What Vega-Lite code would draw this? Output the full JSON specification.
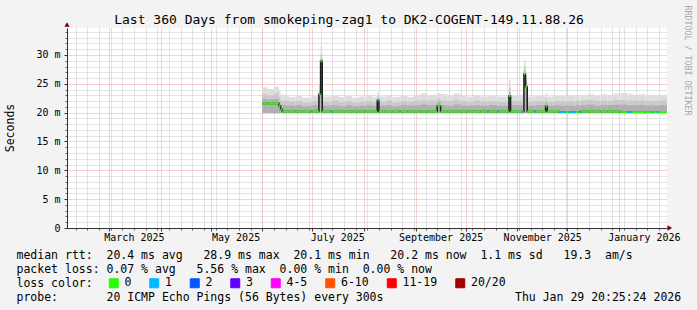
{
  "$schema": "https://vega.github.io/schema/vega-lite/v6.json",
  "width": 600,
  "height": 200,
  "autosize": {"type": "none"},
  "padding": {"left": 67, "top": 28, "right": 30, "bottom": 82},
  "background": "#f3f3f3",
  "view": {"fill": "#ffffff", "stroke": null},
  "datasets": {
    "ping": [
      {"t": "2025-06-01T00:00", "e": "2025-06-04T00:00", "med": 21.6, "loss": "0", "hi": 24.4, "mid": 23.2, "low": 22.4},
      {"t": "2025-06-04T00:00", "e": "2025-06-08T00:00", "med": 21.6, "loss": "0", "hi": 24.1, "mid": 23.0, "low": 22.3},
      {"t": "2025-06-08T00:00", "e": "2025-06-11T00:00", "med": 21.6, "loss": "0", "hi": 24.5, "mid": 23.3, "low": 22.4},
      {"t": "2025-06-11T00:00", "e": "2025-06-12T00:00", "med": 21.2, "loss": "0", "hi": 23.8, "mid": 22.7, "low": 21.9},
      {"t": "2025-06-12T00:00", "e": "2025-06-13T00:00", "med": 20.6, "loss": "0", "hi": 23.2, "mid": 22.2, "low": 21.4},
      {"t": "2025-06-13T00:00", "e": "2025-06-17T00:00", "med": 20.2, "loss": "0", "hi": 23.1, "mid": 22.1, "low": 21.3},
      {"t": "2025-06-17T00:00", "e": "2025-06-21T00:00", "med": 20.2, "loss": "0", "hi": 22.7, "mid": 21.9, "low": 21.2},
      {"t": "2025-06-21T00:00", "e": "2025-06-25T00:00", "med": 20.2, "loss": "0", "hi": 22.9, "mid": 22.0, "low": 21.3},
      {"t": "2025-06-25T00:00", "e": "2025-06-30T00:00", "med": 20.2, "loss": "0", "hi": 22.6, "mid": 21.8, "low": 21.1},
      {"t": "2025-06-30T00:00", "e": "2025-07-01T00:00", "med": 20.2, "loss": "1", "hi": 22.8, "mid": 21.9, "low": 21.2},
      {"t": "2025-07-01T00:00", "e": "2025-07-05T00:00", "med": 20.2, "loss": "0", "hi": 22.9, "mid": 22.0, "low": 21.3},
      {"t": "2025-07-05T00:00", "e": "2025-07-06T00:00", "med": 23.2, "loss": "0", "hi": 24.8, "mid": 24.0, "low": 23.6},
      {"t": "2025-07-06T00:00", "e": "2025-07-07T00:00", "med": 28.9, "loss": "0", "hi": 31.5, "mid": 30.1, "low": 29.4},
      {"t": "2025-07-07T00:00", "e": "2025-07-12T00:00", "med": 20.2, "loss": "0", "hi": 22.8, "mid": 21.9, "low": 21.2},
      {"t": "2025-07-12T00:00", "e": "2025-07-13T00:00", "med": 20.2, "loss": "1", "hi": 22.9, "mid": 22.0, "low": 21.3},
      {"t": "2025-07-13T00:00", "e": "2025-07-17T00:00", "med": 20.2, "loss": "0", "hi": 23.0, "mid": 22.1, "low": 21.3},
      {"t": "2025-07-17T00:00", "e": "2025-07-21T00:00", "med": 20.2, "loss": "0", "hi": 22.7, "mid": 21.8, "low": 21.1},
      {"t": "2025-07-21T00:00", "e": "2025-07-25T00:00", "med": 20.2, "loss": "0", "hi": 22.9, "mid": 22.0, "low": 21.3},
      {"t": "2025-07-25T00:00", "e": "2025-07-29T00:00", "med": 20.2, "loss": "0", "hi": 22.6, "mid": 21.8, "low": 21.1},
      {"t": "2025-07-29T00:00", "e": "2025-08-02T00:00", "med": 20.2, "loss": "0", "hi": 22.8, "mid": 21.9, "low": 21.2},
      {"t": "2025-08-02T00:00", "e": "2025-08-06T00:00", "med": 20.2, "loss": "0", "hi": 23.0, "mid": 22.0, "low": 21.3},
      {"t": "2025-08-06T00:00", "e": "2025-08-09T00:00", "med": 20.2, "loss": "0", "hi": 22.7, "mid": 21.9, "low": 21.2},
      {"t": "2025-08-09T00:00", "e": "2025-08-10T00:00", "med": 22.1, "loss": "1", "hi": 23.5, "mid": 22.9, "low": 22.5},
      {"t": "2025-08-10T00:00", "e": "2025-08-14T00:00", "med": 20.2, "loss": "0", "hi": 22.8, "mid": 21.9, "low": 21.2},
      {"t": "2025-08-14T00:00", "e": "2025-08-18T00:00", "med": 20.2, "loss": "0", "hi": 23.0, "mid": 22.1, "low": 21.3},
      {"t": "2025-08-18T00:00", "e": "2025-08-22T00:00", "med": 20.2, "loss": "0", "hi": 22.7, "mid": 21.8, "low": 21.1},
      {"t": "2025-08-22T00:00", "e": "2025-08-23T00:00", "med": 20.2, "loss": "1", "hi": 22.8, "mid": 21.9, "low": 21.2},
      {"t": "2025-08-23T00:00", "e": "2025-08-27T00:00", "med": 20.2, "loss": "0", "hi": 22.9, "mid": 22.0, "low": 21.3},
      {"t": "2025-08-27T00:00", "e": "2025-08-31T00:00", "med": 20.2, "loss": "0", "hi": 22.7, "mid": 21.9, "low": 21.2},
      {"t": "2025-08-31T00:00", "e": "2025-09-04T00:00", "med": 20.2, "loss": "0", "hi": 23.1, "mid": 22.1, "low": 21.3},
      {"t": "2025-09-04T00:00", "e": "2025-09-08T00:00", "med": 20.2, "loss": "0", "hi": 23.3, "mid": 22.2, "low": 21.4},
      {"t": "2025-09-08T00:00", "e": "2025-09-14T00:00", "med": 20.2, "loss": "0", "hi": 23.1, "mid": 22.1, "low": 21.3},
      {"t": "2025-09-14T00:00", "e": "2025-09-16T00:00", "med": 21.2, "loss": "0", "hi": 23.4, "mid": 22.5, "low": 21.9},
      {"t": "2025-09-16T00:00", "e": "2025-09-20T00:00", "med": 20.2, "loss": "0", "hi": 23.2, "mid": 22.1, "low": 21.3},
      {"t": "2025-09-20T00:00", "e": "2025-09-24T00:00", "med": 20.2, "loss": "0", "hi": 23.0, "mid": 22.0, "low": 21.2},
      {"t": "2025-09-24T00:00", "e": "2025-09-28T00:00", "med": 20.2, "loss": "0", "hi": 23.3, "mid": 22.2, "low": 21.4},
      {"t": "2025-09-28T00:00", "e": "2025-10-02T00:00", "med": 20.2, "loss": "0", "hi": 22.9, "mid": 22.0, "low": 21.2},
      {"t": "2025-10-02T00:00", "e": "2025-10-06T00:00", "med": 20.2, "loss": "0", "hi": 22.8, "mid": 21.9, "low": 21.2},
      {"t": "2025-10-06T00:00", "e": "2025-10-10T00:00", "med": 20.2, "loss": "0", "hi": 23.0, "mid": 22.1, "low": 21.3},
      {"t": "2025-10-10T00:00", "e": "2025-10-14T00:00", "med": 20.2, "loss": "0", "hi": 22.8, "mid": 21.9, "low": 21.2},
      {"t": "2025-10-14T00:00", "e": "2025-10-15T00:00", "med": 20.2, "loss": "1", "hi": 22.9, "mid": 22.0, "low": 21.2},
      {"t": "2025-10-15T00:00", "e": "2025-10-20T00:00", "med": 20.2, "loss": "0", "hi": 22.9, "mid": 22.0, "low": 21.3},
      {"t": "2025-10-20T00:00", "e": "2025-10-21T00:00", "med": 20.2, "loss": "1", "hi": 22.8, "mid": 21.9, "low": 21.2},
      {"t": "2025-10-21T00:00", "e": "2025-10-27T00:00", "med": 20.2, "loss": "0", "hi": 22.8, "mid": 21.9, "low": 21.2},
      {"t": "2025-10-27T00:00", "e": "2025-10-28T00:00", "med": 22.9, "loss": "0", "hi": 25.7, "mid": 24.3, "low": 23.6},
      {"t": "2025-10-28T00:00", "e": "2025-11-01T00:00", "med": 20.2, "loss": "0", "hi": 22.9, "mid": 22.0, "low": 21.3},
      {"t": "2025-11-01T00:00", "e": "2025-11-04T00:00", "med": 20.2, "loss": "0", "hi": 23.0, "mid": 22.1, "low": 21.3},
      {"t": "2025-11-04T00:00", "e": "2025-11-05T00:00", "med": 20.2, "loss": "1", "hi": 22.9, "mid": 22.0, "low": 21.3},
      {"t": "2025-11-05T00:00", "e": "2025-11-06T00:00", "med": 26.7, "loss": "0", "hi": 29.2, "mid": 28.0, "low": 27.3},
      {"t": "2025-11-06T00:00", "e": "2025-11-07T00:00", "med": 24.5, "loss": "0", "hi": 26.2, "mid": 25.4, "low": 24.9},
      {"t": "2025-11-07T00:00", "e": "2025-11-11T00:00", "med": 20.2, "loss": "0", "hi": 22.8, "mid": 21.9, "low": 21.2},
      {"t": "2025-11-11T00:00", "e": "2025-11-12T00:00", "med": 20.2, "loss": "1", "hi": 22.9, "mid": 22.0, "low": 21.2},
      {"t": "2025-11-12T00:00", "e": "2025-11-18T00:00", "med": 20.2, "loss": "0", "hi": 22.9, "mid": 22.0, "low": 21.3},
      {"t": "2025-11-18T00:00", "e": "2025-11-19T00:00", "med": 21.1, "loss": "0", "hi": 23.4, "mid": 22.5, "low": 21.8},
      {"t": "2025-11-19T00:00", "e": "2025-11-23T00:00", "med": 20.2, "loss": "0", "hi": 22.8, "mid": 21.9, "low": 21.2},
      {"t": "2025-11-23T00:00", "e": "2025-11-26T00:00", "med": 20.2, "loss": "0", "hi": 22.9, "mid": 22.0, "low": 21.3},
      {"t": "2025-11-26T00:00", "e": "2025-11-30T00:00", "med": 20.1, "loss": "1", "hi": 22.9, "mid": 22.0, "low": 21.2},
      {"t": "2025-11-30T00:00", "e": "2025-12-02T00:00", "med": 20.1, "loss": "0", "hi": 23.0, "mid": 22.0, "low": 21.3},
      {"t": "2025-12-02T00:00", "e": "2025-12-06T00:00", "med": 20.1, "loss": "1", "hi": 22.9, "mid": 22.0, "low": 21.2},
      {"t": "2025-12-06T00:00", "e": "2025-12-08T00:00", "med": 20.1, "loss": "0", "hi": 23.0, "mid": 22.1, "low": 21.3},
      {"t": "2025-12-08T00:00", "e": "2025-12-09T00:00", "med": 20.1, "loss": "1", "hi": 22.8, "mid": 21.9, "low": 21.2},
      {"t": "2025-12-09T00:00", "e": "2025-12-13T00:00", "med": 20.2, "loss": "0", "hi": 23.0, "mid": 22.1, "low": 21.3},
      {"t": "2025-12-13T00:00", "e": "2025-12-17T00:00", "med": 20.2, "loss": "0", "hi": 23.2, "mid": 22.2, "low": 21.4},
      {"t": "2025-12-17T00:00", "e": "2025-12-21T00:00", "med": 20.2, "loss": "0", "hi": 22.9, "mid": 22.0, "low": 21.2},
      {"t": "2025-12-21T00:00", "e": "2025-12-25T00:00", "med": 20.2, "loss": "0", "hi": 23.2, "mid": 22.1, "low": 21.3},
      {"t": "2025-12-25T00:00", "e": "2025-12-29T00:00", "med": 20.2, "loss": "0", "hi": 23.0, "mid": 22.0, "low": 21.3},
      {"t": "2025-12-29T00:00", "e": "2026-01-02T00:00", "med": 20.2, "loss": "0", "hi": 23.3, "mid": 22.2, "low": 21.4},
      {"t": "2026-01-02T00:00", "e": "2026-01-06T00:00", "med": 20.1, "loss": "0", "hi": 23.4, "mid": 22.2, "low": 21.4},
      {"t": "2026-01-06T00:00", "e": "2026-01-09T00:00", "med": 20.1, "loss": "1", "hi": 23.2, "mid": 22.1, "low": 21.3},
      {"t": "2026-01-09T00:00", "e": "2026-01-13T00:00", "med": 20.1, "loss": "0", "hi": 23.1, "mid": 22.1, "low": 21.3},
      {"t": "2026-01-13T00:00", "e": "2026-01-17T00:00", "med": 20.1, "loss": "0", "hi": 23.2, "mid": 22.1, "low": 21.3},
      {"t": "2026-01-17T00:00", "e": "2026-01-21T00:00", "med": 20.1, "loss": "0", "hi": 23.0, "mid": 22.0, "low": 21.2},
      {"t": "2026-01-21T00:00", "e": "2026-01-22T00:00", "med": 20.1, "loss": "1", "hi": 23.1, "mid": 22.1, "low": 21.3},
      {"t": "2026-01-22T00:00", "e": "2026-01-24T00:00", "med": 20.1, "loss": "0", "hi": 23.1, "mid": 22.0, "low": 21.2},
      {"t": "2026-01-24T00:00", "e": "2026-01-25T00:00", "med": 20.1, "loss": "1", "hi": 23.0, "mid": 22.0, "low": 21.2},
      {"t": "2026-01-25T00:00", "e": "2026-01-29T20:00", "med": 20.1, "loss": "0", "hi": 23.1, "mid": 22.1, "low": 21.3}
    ]
  },
  "resolve": {"axis": {"x": "independent", "y": "independent"}},
  "layer": [
    {
      "data": {"name": "ping"},
      "mark": {"type": "rect", "color": "#dddddd"},
      "encoding": {
        "x": {"field": "t", "type": "temporal",
          "scale": {"domain": [{"year": 2025, "month": 2, "date": 3, "hours": 20, "minutes": 25}, {"year": 2026, "month": 1, "date": 29, "hours": 20, "minutes": 25}], "nice": false},
          "axis": {"orient": "bottom", "grid": true, "gridColor": "#c8c8c8", "gridDash": [1, 1], "tickCount": {"interval": "week", "step": 1}, "labels": false, "ticks": true, "tickSize": 2, "tickColor": "#666666", "domain": false, "title": null, "zindex": 0}},
        "x2": {"field": "e"},
        "y": {"field": "hi", "type": "quantitative",
          "scale": {"domain": [0, 34.68], "nice": false, "zero": true},
          "axis": {"orient": "left", "values": [1, 2, 3, 4, 6, 7, 8, 9, 11, 12, 13, 14, 16, 17, 18, 19, 21, 22, 23, 24, 26, 27, 28, 29, 31, 32, 33, 34], "grid": true, "gridColor": "#c8c8c8", "gridDash": [1, 1], "labels": false, "ticks": true, "tickSize": 2, "tickColor": "#666666", "domain": false, "title": "Seconds", "titleFont": "DejaVu Sans Mono", "titleFontSize": 11.5, "titleFontWeight": "normal", "titleColor": "#000000", "titleAngle": 270, "titleX": -53.7, "titleY": 99.5, "titleAlign": "center", "titleBaseline": "alphabetic", "zindex": 0}},
        "y2": {"datum": 19.95}
      }
    },
    {
      "data": {"name": "ping"},
      "mark": {"type": "rect", "color": "#c9c9c9"},
      "encoding": {
        "x": {"field": "t", "type": "temporal",
          "scale": {"domain": [{"year": 2025, "month": 2, "date": 3, "hours": 20, "minutes": 25}, {"year": 2026, "month": 1, "date": 29, "hours": 20, "minutes": 25}], "nice": false},
          "axis": {"orient": "bottom", "grid": true, "gridColor": "#f3a3a3", "gridDash": [1, 1], "tickCount": {"interval": "month", "step": 1}, "labels": false, "ticks": true, "tickSize": 3, "tickColor": "#444444", "domain": false, "title": null, "zindex": 0}},
        "x2": {"field": "e"},
        "y": {"field": "mid", "type": "quantitative",
          "scale": {"domain": [0, 34.68], "nice": false, "zero": true},
          "axis": {"orient": "left", "values": [0, 5, 10, 15, 20, 25, 30], "grid": true, "gridColor": "#f3a3a3", "gridDash": [1, 1], "labels": true, "labelExpr": "datum.value == 0 ? '0' : datum.value + ' m'", "labelFont": "DejaVu Sans Mono", "labelFontSize": 10, "labelColor": "#000000", "labelPadding": 4, "ticks": true, "tickSize": 3, "tickColor": "#333333", "domain": true, "domainColor": "#333333", "title": null, "zindex": 0}},
        "y2": {"datum": 19.95}
      }
    },
    {
      "data": {"name": "ping"},
      "mark": {"type": "rect", "color": "#afafaf"},
      "encoding": {
        "x": {"field": "t", "type": "temporal",
          "scale": {"domain": [{"year": 2025, "month": 2, "date": 3, "hours": 20, "minutes": 25}, {"year": 2026, "month": 1, "date": 29, "hours": 20, "minutes": 25}], "nice": false},
          "axis": {"orient": "bottom", "grid": false, "values": [{"year": 2025, "month": 3, "date": 16}, {"year": 2025, "month": 5, "date": 16}, {"year": 2025, "month": 7, "date": 16}, {"year": 2025, "month": 9, "date": 16}, {"year": 2025, "month": 11, "date": 16}, {"year": 2026, "month": 1, "date": 16}], "format": "%B %Y", "labelFont": "DejaVu Sans Mono", "labelFontSize": 10, "labelColor": "#000000", "labelPadding": 4, "labelFlush": false, "labelOverlap": false, "labelBound": false, "ticks": false, "domain": true, "domainColor": "#333333",
            "title": ["median rtt:\u00a0\u00a020.4 ms avg\u00a0\u00a0\u00a028.9 ms max\u00a0\u00a020.1 ms min\u00a0\u00a0\u00a020.2 ms now\u00a0\u00a01.1 ms sd\u00a0\u00a0\u00a019.3\u00a0\u00a0am/s", "packet loss:\u00a00.07 % avg\u00a0\u00a0\u00a05.56 % max\u00a0\u00a00.00 % min\u00a0\u00a00.00 % now", "loss color:", "probe:\u00a0\u00a0\u00a0\u00a0\u00a0\u00a0\u00a020 ICMP Echo Pings (56 Bytes) every 300s\u00a0\u00a0\u00a0\u00a0\u00a0\u00a0\u00a0\u00a0\u00a0\u00a0\u00a0\u00a0\u00a0\u00a0\u00a0\u00a0\u00a0\u00a0\u00a0Thu Jan 29 20:25:24 2026"],
            "titleFont": "DejaVu Sans Mono", "titleFontSize": 11.5, "titleFontWeight": "normal", "titleColor": "#000000", "titleAlign": "left", "titleAnchor": "start", "titleX": -51, "titleY": 30.7, "titleBaseline": "alphabetic", "titleLineHeight": 13.8, "zindex": 2}},
        "x2": {"field": "e"},
        "y": {"field": "low", "type": "quantitative",
          "scale": {"domain": [0, 34.68], "nice": false, "zero": true},
          "axis": {"orient": "right", "labels": false, "ticks": false, "domain": false, "grid": false, "title": "RRDTOOL / TOBI OETIKER", "titleFont": "DejaVu Sans Mono", "titleFontSize": 8.3, "titleFontWeight": "normal", "titleColor": "#a8a8a8", "titleAngle": 90, "titleX": 17, "titleY": 32, "titleAlign": "center", "titleBaseline": "alphabetic"}},
        "y2": {"datum": 19.95}
      }
    },
    {
      "data": {"name": "ping"},
      "mark": {"type": "line", "interpolate": "step-after", "color": "#1e1e1e", "strokeWidth": 1.5},
      "encoding": {
        "x": {"field": "t", "type": "temporal",
          "scale": {"domain": [{"year": 2025, "month": 2, "date": 3, "hours": 20, "minutes": 25}, {"year": 2026, "month": 1, "date": 29, "hours": 20, "minutes": 25}], "nice": false},
          "axis": {"orient": "top", "labels": false, "ticks": false, "domain": false, "grid": false, "title": "Last 360 Days from smokeping-zag1 to DK2-COGENT-149.11.88.26", "titleFont": "DejaVu Sans Mono", "titleFontSize": 13, "titleFontWeight": "normal", "titleColor": "#000000", "titleAlign": "center", "titleAnchor": "start", "titleX": 281.5, "titleY": -5, "titleBaseline": "alphabetic"}},
        "y": {"field": "med", "type": "quantitative", "scale": {"domain": [0, 34.68], "nice": false, "zero": true}, "axis": null}
      }
    },
    {
      "data": {"name": "ping"},
      "mark": {"type": "rule", "strokeWidth": 2},
      "encoding": {
        "x": {"field": "t", "type": "temporal", "scale": {"domain": [{"year": 2025, "month": 2, "date": 3, "hours": 20, "minutes": 25}, {"year": 2026, "month": 1, "date": 29, "hours": 20, "minutes": 25}], "nice": false}, "axis": null},
        "x2": {"field": "e"},
        "y": {"field": "med", "type": "quantitative", "scale": {"domain": [0, 34.68], "nice": false, "zero": true}, "axis": null},
        "color": {"field": "loss", "type": "nominal",
          "scale": {"domain": ["0", "1", "2", "3", "4-5", "6-10", "11-19", "20/20"], "range": ["#26ff00", "#00b8ff", "#0059ff", "#5e00ff", "#ff00fe", "#ff5500", "#ff0000", "#a10000"]},
          "legend": {"orient": "none", "legendX": 41, "legendY": 249.5, "direction": "horizontal", "columns": 8, "title": null, "symbolType": "square", "symbolSize": 81, "symbolStrokeWidth": 1, "symbolStrokeColor": "#000000", "labelFont": "DejaVu Sans Mono", "labelFontSize": 11.5, "labelColor": "#000000", "labelOffset": 5, "columnPadding": 15.5, "padding": 0, "gridAlign": "none",
            "encode": {"symbols": {"update": {"fill": {"scale": "color", "field": "value"}, "fillOpacity": {"value": 1}, "stroke": {"value": "#000000"}, "strokeWidth": {"value": 1}}}}}}
      }
    },
    {
      "data": {"values": [{}]},
      "mark": {"type": "point", "shape": "triangle-right", "filled": true, "color": "#7a0000", "size": 28, "opacity": 1, "clip": false},
      "encoding": {
        "x": {"datum": {"year": 2026, "month": 1, "date": 31, "hours": 12}, "type": "temporal", "scale": {"domain": [{"year": 2025, "month": 2, "date": 3, "hours": 20, "minutes": 25}, {"year": 2026, "month": 1, "date": 29, "hours": 20, "minutes": 25}], "nice": false}, "axis": null},
        "y": {"datum": 0, "type": "quantitative", "scale": {"domain": [0, 34.68], "nice": false, "zero": true}, "axis": null}
      }
    },
    {
      "data": {"values": [{}]},
      "mark": {"type": "point", "shape": "triangle-up", "filled": true, "color": "#7a0000", "size": 28, "opacity": 1, "clip": false},
      "encoding": {
        "x": {"datum": {"year": 2025, "month": 2, "date": 3, "hours": 20, "minutes": 25}, "type": "temporal", "scale": {"domain": [{"year": 2025, "month": 2, "date": 3, "hours": 20, "minutes": 25}, {"year": 2026, "month": 1, "date": 29, "hours": 20, "minutes": 25}], "nice": false}, "axis": null},
        "y": {"datum": 35.3, "type": "quantitative", "scale": {"domain": [0, 34.68], "nice": false, "zero": true}, "axis": null}
      }
    }
  ]
}
